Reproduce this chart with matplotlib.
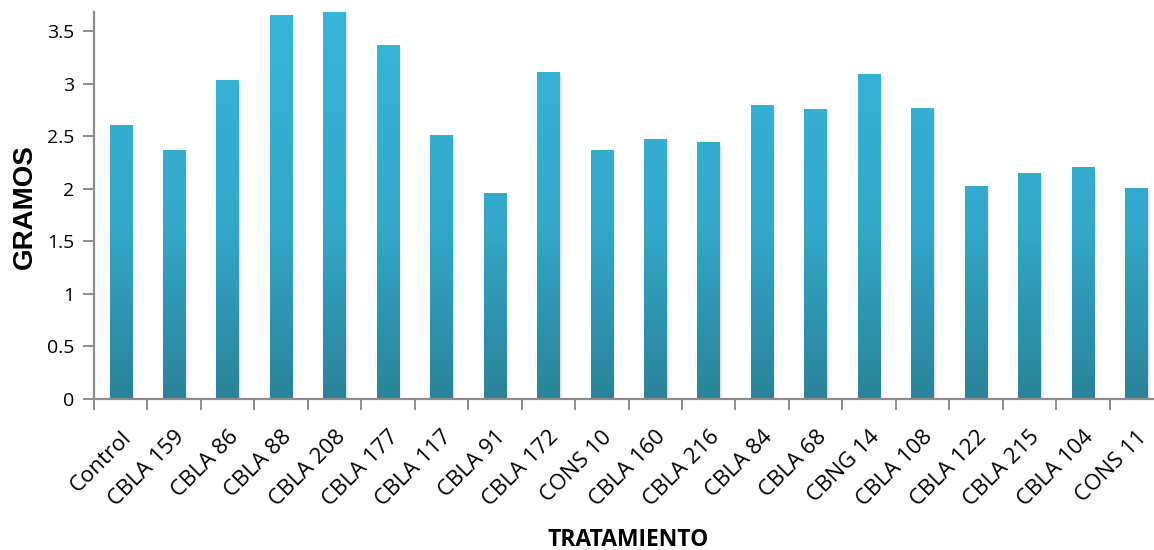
import numpy as np
import matplotlib.pyplot as plt
from matplotlib.colors import LinearSegmentedColormap
from matplotlib.patches import Rectangle

tratamientos = ['Control', 'CBLA 159', 'CBLA 86', 'CBLA 88', 'CBLA 208', 'CBLA 177',
                'CBLA 117', 'CBLA 91', 'CBLA 172', 'CONS 10', 'CBLA 160', 'CBLA 216',
                'CBLA 84', 'CBLA 68', 'CBNG 14', 'CBLA 108', 'CBLA 122', 'CBLA 215',
                'CBLA 104', 'CONS 11']
gramos = [2.61, 2.37, 3.03, 3.65, 3.68, 3.37, 2.51, 1.96, 3.11, 2.37,
          2.47, 2.44, 2.80, 2.76, 3.09, 2.77, 2.03, 2.15, 2.21, 2.01]
y_ticks = [0, 0.5, 1, 1.5, 2, 2.5, 3, 3.5]
y_tick_labels = ['0', '0.5', '1', '1.5', '2', '2.5', '3', '3.5']

ymax = 3.68
bar_w = 0.42
axis_gray = '#8c8c8c'

# vertical fill: bright cyan near the top, teal toward the baseline
grad = LinearSegmentedColormap.from_list(
    'barfill', [(0.0, '#2a8398'), (0.45, '#33a8c9'), (1.0, '#37b5da')])

fig = plt.figure(figsize=(11.54, 5.5), dpi=100)
ax = fig.add_axes([94 / 1154, 151 / 550, 1069 / 1154, 387 / 550])

x = np.arange(len(tratamientos))
fill = np.linspace(0, 1, 256).reshape(-1, 1)

for xi, val in zip(x, gramos):
    # soft drop shadow on the right side
    for k, a in enumerate([0.10, 0.07, 0.04]):
        off = 0.02 * (k + 1)
        ax.add_patch(Rectangle((xi - bar_w / 2 + off, 0), bar_w, val - 0.02 * k,
                               facecolor='#606060', edgecolor='none', alpha=a, zorder=1))
    rect = Rectangle((xi - bar_w / 2, 0), bar_w, val, facecolor='none',
                     edgecolor='none', zorder=2)
    ax.add_patch(rect)
    im = ax.imshow(fill, cmap=grad, origin='lower', aspect='auto',
                   extent=(xi - bar_w / 2, xi + bar_w / 2, 0, ymax),
                   vmin=0, vmax=1, zorder=2, interpolation='bilinear')
    im.set_clip_path(rect)

ax.set_xlim(-0.5, len(tratamientos) - 0.5)
ax.set_ylim(0, ymax)

for s in ['top', 'right']:
    ax.spines[s].set_visible(False)
for s in ['left', 'bottom']:
    ax.spines[s].set_color(axis_gray)
    ax.spines[s].set_linewidth(1.6)

ax.set_yticks(y_ticks)
ax.set_yticklabels(y_tick_labels, fontsize=14, family='Open Sans')
ax.tick_params(axis='y', direction='out', length=8, width=1.4, color=axis_gray, pad=6)

ax.set_xticks(x)
ax.set_xticklabels(tratamientos, fontsize=16, family='Open Sans',
                   rotation=45, ha='right', rotation_mode='anchor')
ax.tick_params(axis='x', which='major', length=0, pad=20)
ax.set_xticks(np.arange(len(tratamientos) + 1) - 0.5, minor=True)
ax.tick_params(axis='x', which='minor', direction='out', length=8, width=1.4,
               color=axis_gray)

fig.text(25 / 1154, 1 - 207 / 550, 'GRAMOS', rotation=90, ha='center', va='center',
         fontsize=20, fontweight='bold', family='Liberation Sans')
fig.text(628 / 1154, 1 - 540 / 550, 'TRATAMIENTO', ha='center', va='center',
         fontsize=16.5, fontweight='bold', family='Open Sans')

fig.savefig('out.png', dpi=100)
